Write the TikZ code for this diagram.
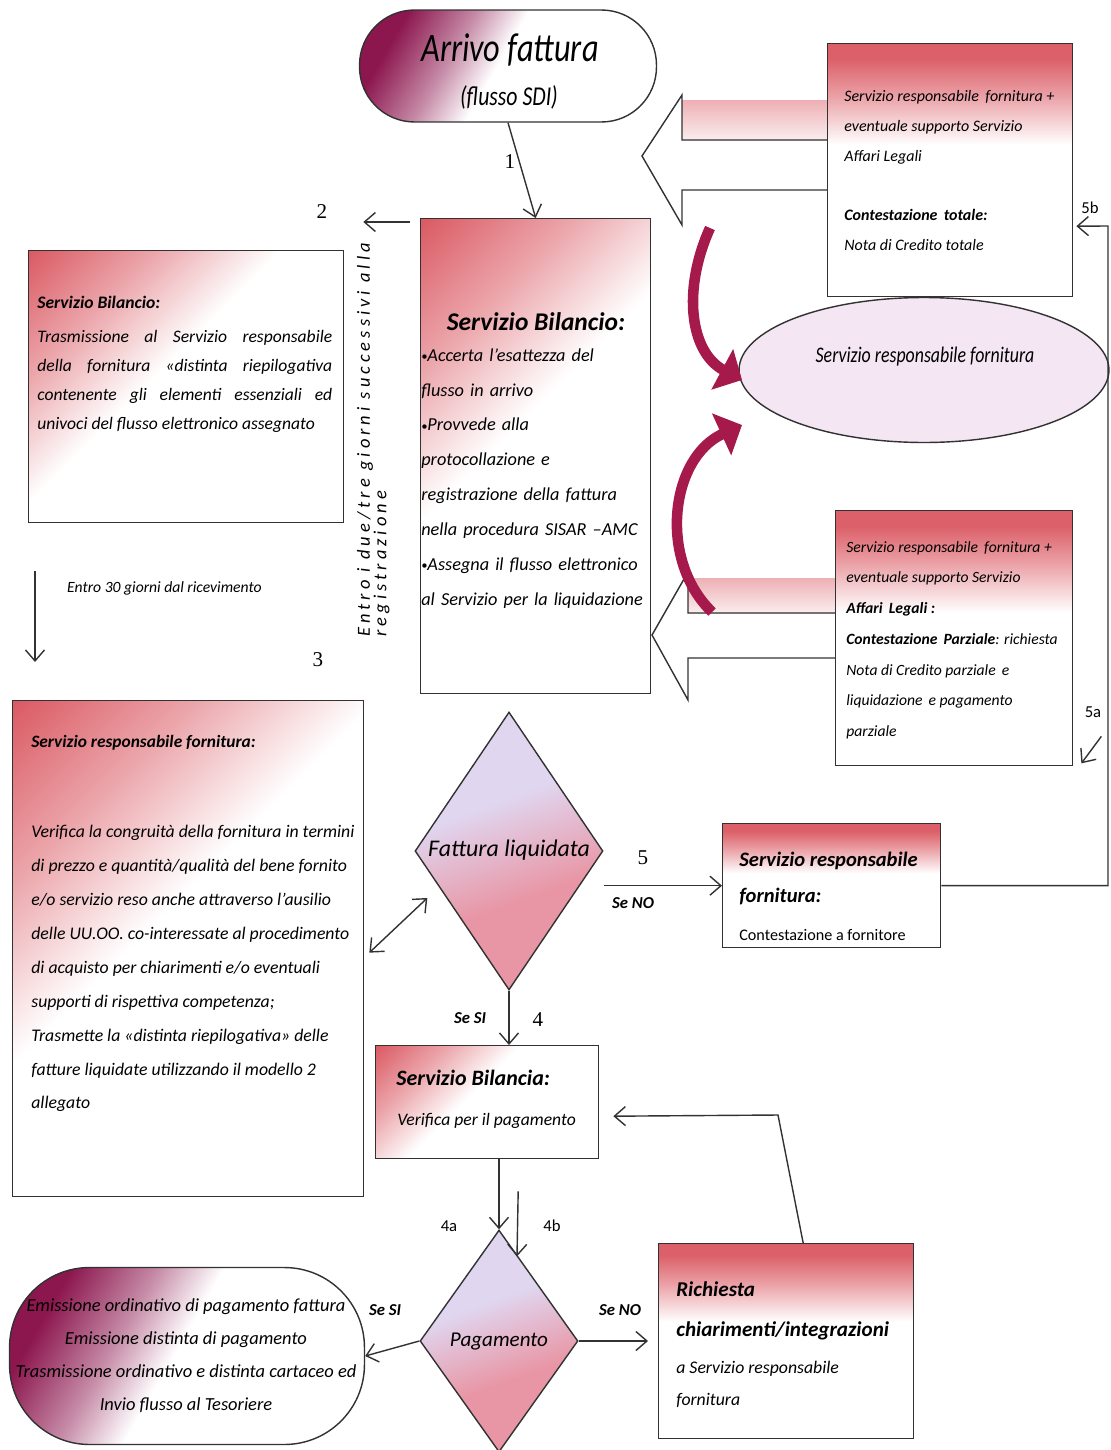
\documentclass[tikz,border=0pt]{standalone}
\usepackage{fontspec}
\setmainfont{Carlito}
\newfontfamily\narrowfont[FakeStretch=0.8]{Carlito}
\newfontfamily\spacedfont[LetterSpace=22]{Carlito}
\newfontfamily\numfont{Liberation Serif}
\usetikzlibrary{shapes.geometric, arrows.meta}
\definecolor{boxred}{RGB}{216,78,88}
\definecolor{termmag}{RGB}{140,22,78}
\definecolor{curvmag}{RGB}{165,25,75}
\definecolor{dialav}{RGB}{224,214,240}
\definecolor{diapink}{RGB}{232,150,165}
\definecolor{ellfill}{RGB}{244,230,242}
\definecolor{linegray}{RGB}{50,50,50}
\pgfdeclareverticalshading{topfade}{100bp}{color(0bp)=(white); color(55bp)=(white); color(65bp)=(boxred!55); color(72bp)=(boxred!90); color(100bp)=(boxred!90)}
\pgfdeclareverticalshading{cornerfade}{100bp}{color(0bp)=(white); color(55bp)=(white); color(70bp)=(boxred!50); color(86bp)=(boxred!95); color(100bp)=(boxred!95)}
\pgfdeclareverticalshading{termfade}{100bp}{color(0bp)=(white); color(52bp)=(white); color(62bp)=(termmag!50); color(75bp)=(termmag); color(100bp)=(termmag)}
\pgfdeclareverticalshading{diafade}{100bp}{color(0bp)=(diapink); color(40bp)=(diapink); color(60bp)=(dialav); color(100bp)=(dialav)}
\newcommand{\bul}{{\fontsize{7}{7}\selectfont\raisebox{0.15ex}{•}}}
\tikzstyle{arrow} = [line width=0.8pt, draw=linegray, ->, >={Straight Barb[length=2.2mm,width=3.8mm]}]
\tikzstyle{twoarrow} = [arrow, <->]
\tikzstyle{block} = [rectangle, draw=linegray, line width=0.8pt, anchor=north west, inner sep=0pt]
\tikzstyle{topblock} = [block, shading=topfade]
\tikzstyle{cornerblock} = [block, shading=cornerfade, shading angle=45]
\tikzstyle{terminal} = [rectangle, draw=linegray, line width=0.8pt, shading=termfade, shading angle=60]
\tikzstyle{decision} = [diamond, draw=linegray, line width=0.8pt, shading=diafade, shading angle=20, inner sep=0pt]
\tikzstyle{blockarrow} = [draw=linegray, line width=0.8pt]
\tikzstyle{curlarrow} = [line width=6pt, draw=curvmag, -{Triangle[length=0.45cm,width=0.9cm]}]
\tikzstyle{txt} = [anchor=north west, inner sep=0pt, align=left]
\tikzstyle{numlbl} = [font=\numfont\fontsize{12}{12}\selectfont]
\tikzstyle{lbl} = [font=\bfseries\itshape\fontsize{9.5}{10}\selectfont]
\tikzstyle{sublbl} = [font=\fontsize{9.5}{10}\selectfont]

\begin{document}
\begin{tikzpicture}[x=0.02cm, y=-0.02cm]
\useasboundingbox (0,0) rectangle (1111,1450);

\fill[top color=boxred!45, bottom color=boxred!10] (682,100) rectangle (827,140);
\draw[blockarrow] (827,140) -- (682,140) -- (682,95) -- (642,156) -- (682,225) -- (682,190) -- (827,190);
\fill[top color=boxred!45, bottom color=boxred!10] (688,578) rectangle (837,613);
\draw[blockarrow] (837,613) -- (688,613) -- (688,572) -- (652,635) -- (688,700) -- (688,658) -- (837,658);

\node (t0) [terminal, minimum width=5.94cm, minimum height=2.24cm, rounded corners=1.1cm] at (508,66) {};
\node (b1) [cornerblock, minimum width=4.6cm, minimum height=9.5cm] at (420,218) {};
\node (b2) [cornerblock, minimum width=6.3cm, minimum height=5.44cm] at (28,250) {};
\node (b3) [cornerblock, minimum width=7.02cm, minimum height=9.92cm] at (12,700) {};
\node (b5b) [topblock, minimum width=4.9cm, minimum height=5.06cm] at (827,43) {};
\node (b5a) [topblock, minimum width=4.74cm, minimum height=5.1cm] at (835,510) {};
\node (e0) [ellipse, draw=linegray, line width=0.8pt, fill=ellfill, minimum width=7.4cm, minimum height=2.9cm] at (924,370) {};
\node (d1) [decision, minimum width=3.76cm, minimum height=5.56cm] at (509,851) {};
\node (b5) [topblock, minimum width=4.36cm, minimum height=2.48cm] at (722,823) {};
\node (b4) [cornerblock, minimum width=4.46cm, minimum height=2.26cm] at (375,1045) {};
\node (d2) [decision, minimum width=3.16cm, minimum height=4.44cm] at (499,1341) {};
\node (t1) [terminal, minimum width=7.1cm, minimum height=3.54cm, rounded corners=1.6cm] at (187,1356) {};
\node (b6) [topblock, minimum width=5.1cm, minimum height=3.9cm] at (658,1243) {};

\draw[curlarrow] (710,228) .. controls (682,290) and (690,352) .. (742,380);
\draw[curlarrow] (712,612) .. controls (658,560) and (670,458) .. (742,425);

\node (t0a) [font=\narrowfont\itshape\fontsize{23}{23}\selectfont] at (510,50) {Arrivo fattura};
\node (t0b) [font=\narrowfont\itshape\fontsize{15.5}{15.5}\selectfont] at (509,97) {(flusso SDI)};
\node (b1t) [font=\bfseries\itshape\fontsize{14.5}{16}\selectfont] at (536,322) {Servizio Bilancio:};
\node (b1x) [txt, text width=4.8cm, font=\itshape\fontsize{10.4}{19.9}\selectfont] at (421,348) {\bul Accerta l’esattezza del\\flusso in arrivo\\\bul Provvede alla\\protocollazione e\\registrazione della fattura\\nella procedura SISAR –AMC\\\bul Assegna il flusso elettronico\\al Servizio per la liquidazione};
\node (b2x) [txt, text width=5.9cm, align=justify, font=\itshape\fontsize{10}{16.5}\selectfont] at (37,296) {\textbf{Servizio Bilancio:}\\[3pt]Trasmissione al Servizio responsabile\linebreak della fornitura «distinta riepilogativa\linebreak contenente gli elementi essenziali ed\linebreak univoci del flusso elettronico assegnato};
\node (rot) [anchor=south west, rotate=90, inner sep=0pt, align=left, font=\spacedfont\itshape\fontsize{10.5}{9.5}\selectfont] at (390,637) {Entro i due/tre giorni successivi alla\\registrazione};
\node (n30) [anchor=west, font=\itshape\fontsize{8.9}{10}\selectfont] at (61,588) {Entro 30 giorni dal ricevimento};
\node (b3t) [txt, font=\bfseries\itshape\fontsize{9.9}{11}\selectfont] at (31,735) {Servizio responsabile fornitura:};
\node (b3x) [txt, font=\itshape\fontsize{10.1}{19.3}\selectfont] at (31,825) {Verifica la congruità della fornitura in termini\\di prezzo e quantità/qualità del bene fornito\\e/o servizio reso anche attraverso l’ausilio\\delle UU.OO. co-interessate al procedimento\\di acquisto per chiarimenti e/o eventuali\\supporti di rispettiva competenza;\\Trasmette la «distinta riepilogativa» delle\\fatture liquidate utilizzando il modello 2\\allegato};
\node (b5bx) [txt, font=\itshape\fontsize{9.1}{17}\selectfont] at (844,90) {Servizio responsabile\, fornitura +\\eventuale supporto Servizio\\Affari Legali\\[17pt]\textbf{Contestazione\, totale:}\\Nota di Credito totale};
\node (b5ax) [txt, font=\itshape\fontsize{8.9}{17.5}\selectfont] at (846,541) {Servizio responsabile\, fornitura +\\eventuale supporto Servizio\\\textbf{Affari\, Legali :}\\\textbf{Contestazione\, Parziale}: richiesta\\Nota di Credito parziale\, e\\liquidazione\, e pagamento\\parziale};
\node (e0x) [font=\narrowfont\itshape\fontsize{12.7}{13}\selectfont] at (925,357) {Servizio responsabile fornitura};
\node (d1x) [font=\itshape\fontsize{13.6}{15}\selectfont] at (509,850) {Fattura liquidata};
\node (b5x) [txt, font=\bfseries\itshape\fontsize{11.7}{20.5}\selectfont] at (739,852) {Servizio responsabile\\fornitura:};
\node (b5y) [txt, font=\fontsize{9.2}{10}\selectfont] at (739,929) {Contestazione a fornitore};
\node (b4t) [txt, font=\bfseries\itshape\fontsize{12.5}{13}\selectfont] at (396,1070) {Servizio Bilancia:};
\node (b4x) [txt, font=\itshape\fontsize{10}{11}\selectfont] at (397,1113) {Verifica per il pagamento};
\node (d2x) [font=\itshape\fontsize{12}{14}\selectfont] at (499,1342) {Pagamento};
\node (t1x) [align=center, font=\itshape\fontsize{10.5}{18.8}\selectfont] at (186,1356) {Emissione ordinativo di pagamento fattura\\Emissione distinta di pagamento\\Trasmissione ordinativo e distinta cartaceo ed\\Invio flusso al Tesoriere};
\node (b6t) [txt, font=\bfseries\itshape\fontsize{12}{22.7}\selectfont] at (676,1281) {Richiesta\\chiarimenti/integrazioni};
\node (b6x) [txt, font=\itshape\fontsize{10.1}{18.2}\selectfont] at (676,1361) {a Servizio responsabile\\fornitura};

\coordinate (rail) at (1108,226);
\coordinate (bend) at (778,1115);

\draw [arrow] (t0.south) -- (b1.north);
\draw [arrow] ([shift={(-10,4)}]b1.north west) -- ([shift={(19,-28)}]b2.north east);
\draw [arrow] ([shift={(7,48)}]b2.south west) -- ([shift={(23,-38)}]b3.north west);
\draw [twoarrow] ([shift={(5,4)}]b3.east) -- ([shift={(13,47)}]d1.west);
\draw [arrow] (d1.east |- b5.west) -- (b5.west);
\draw [arrow] (b5.east) -| (rail) -- ([shift={(3,56)}]b5b.east);
\draw [arrow] ([shift={(28,-30)}]b5a.south east) -- ([shift={(8,-3)}]b5a.south east);
\draw [arrow] (d1.south) -- (d1.south |- b4.north);
\draw [arrow] (d2.north |- b4.south) -- (d2.north);
\draw [arrow] ([shift={(31,32)}]b4.south) -- ([shift={(18,27)}]d2.north);
\draw [arrow] (d2.west) -- (t1.east);
\draw [arrow, shorten >=0.2cm] (d2.east) -- (d2.east -| b6.west);
\draw [arrow] ([xshift=0.34cm]b6.north) -- (bend) -- ([shift={(14,14)}]b4.east);

\node (l1) [numlbl] at (510,162) {1};
\node (l2) [numlbl] at (322,212) {2};
\node (l3) [numlbl] at (318,660) {3};
\node (l5) [numlbl] at (643,858) {5};
\node (l4) [numlbl] at (538,1020) {4};
\node (no1) [lbl] at (633,903) {Se NO};
\node (si1) [lbl] at (470,1018) {Se SI};
\node (si2) [lbl] at (385,1310) {Se SI};
\node (no2) [lbl] at (620,1310) {Se NO};
\node (l4a) [sublbl] at (449,1226) {4a};
\node (l4b) [sublbl] at (552,1226) {4b};
\node (l5b) [sublbl] at (1090,208) {5b};
\node (l5a) [sublbl] at (1093,712) {5a};
\end{tikzpicture}
\end{document}
